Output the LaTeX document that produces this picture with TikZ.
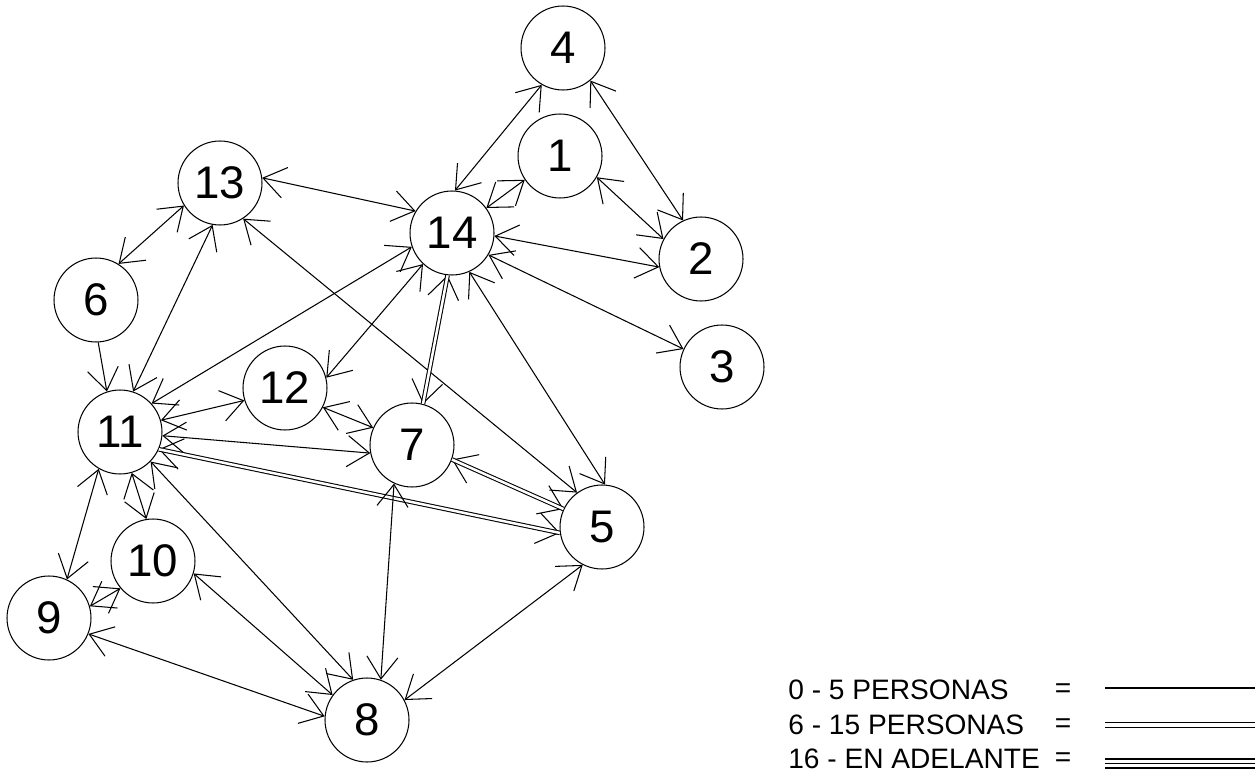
\documentclass[tikz,border=0pt]{standalone}
\usepackage{fontspec}
\setmainfont{Liberation Sans}
\usetikzlibrary{arrows.meta}
\begin{document}
\begin{tikzpicture}[x=0.02cm,y=-0.02cm,
  vtx/.style={circle,draw,line width=0.6pt,minimum size=1.68cm,inner sep=0pt,font=\fontsize{26}{26}\selectfont},
  e/.style={line width=0.6pt,{Straight Barb[length=0.44cm,width=0.62cm]}-{Straight Barb[length=0.44cm,width=0.62cm]}},
  e1/.style={line width=0.6pt,-{Straight Barb[length=0.44cm,width=0.62cm]}},
  dbl/.style={line width=0.6pt,double=white,double distance=0.05cm},
  lg/.style={font=\fontsize{16}{17}\selectfont,anchor=west,inner sep=0pt},
  leq/.style={font=\fontsize{16}{17}\selectfont,inner sep=0pt},
  lline/.style={line width=0.6pt}]
\useasboundingbox (0,0) rectangle (1260,780);
% vertices
\node[vtx] (n4) at (563,48) {4};
\node[vtx] (n1) at (560,156) {1};
\node[vtx] (n13) at (220,183) {13};
\node[vtx] (n14) at (452,233) {14};
\node[vtx] (n2) at (701,259) {2};
\node[vtx] (n6) at (96,300) {6};
\node[vtx] (n3) at (722,367) {3};
\node[vtx] (n12) at (285,388) {12};
\node[vtx] (n11) at (120,432) {11};
\node[vtx] (n7) at (412,445) {7};
\node[vtx] (n5) at (602,527) {5};
\node[vtx] (n10) at (153,561) {10};
\node[vtx] (n9) at (49,618) {9};
\node[vtx] (n8) at (367,720) {8};
% edges
\draw[e] (n14.86) -- (n4.240);
\draw[e] (n4.-50) -- (n2.115);
\draw[e] (n1.214) -- (n14.36);
\draw[e] (n1.-30) -- (n2.152);
\draw[e] (n14.-4) -- (n2.191);
\draw[e] (n14.-31) -- (n3.155);
\draw[e] (n13.7) -- (n14.149);
\draw[e] (n13.212) -- (n6.58);
\draw[e] (n11.72) -- (n13.260);
\draw[e] (n13.-57) -- (n5.126);
\draw[e1] (n6.-87) -- (n11.108);
\draw[e] (n11.42) -- (n14.199);
\draw[e] (n14.227) -- (n12.14);
\draw[e] (n11.16) -- (n12.197);
\draw[e] (n12.-27) -- (n7.156);
\draw[e] (n11.-5) -- (n7.191);
\draw[e] (n11.-24) -- (n5.188);
\draw[dbl] (n11.-24) -- (n5.188);
\draw[e] (n14.264) -- (n7.75);
\draw[dbl] (n14.264) -- (n7.75);
\draw[e] (n14.-66) -- (n5.86);
\draw[e] (n7.-20) -- (n5.155);
\draw[dbl] (n7.-20) -- (n5.155);
\draw[e] (n7.245) -- (n8.71);
\draw[e] (n11.-74) -- (n10.99);
\draw[e] (n11.240) -- (n9.65);
\draw[e] (n11.-44) -- (n8.109);
\draw[e] (n10.220) -- (n9.16);
\draw[e] (n10.-17) -- (n8.144);
\draw[e] (n9.-22) -- (n8.175);
\draw[e] (n5.243) -- (n8.28);
% legend
\node[lg] (l1) at (788,690) {0 - 5 PERSONAS};
\node[lg] (l2) at (788,725) {6 - 15 PERSONAS};
\node[lg] (l3) at (788,759) {16 - EN ADELANTE};
\node[leq] (q1) at (1063,691) {=};
\node[leq] (q2) at (1063,726) {=};
\node[leq] (q3) at (1063,760) {=};
\coordinate (a1) at (1105,688); \coordinate (b1) at (1255,688);
\coordinate (a2) at (1105,725); \coordinate (b2) at (1255,725);
\coordinate (a3) at (1105,759); \coordinate (b3) at (1255,759);
\coordinate (a4) at (1105,763.5); \coordinate (b4) at (1255,763.5);
\coordinate (a5) at (1105,768); \coordinate (b5) at (1255,768);
\draw[lline] (a1) -- (b1);
\draw[dbl,double distance=0.07cm] (a2) -- (b2);
\draw[lline] (a3) -- (b3);
\draw[lline] (a4) -- (b4);
\draw[lline] (a5) -- (b5);
\end{tikzpicture}
\end{document}
